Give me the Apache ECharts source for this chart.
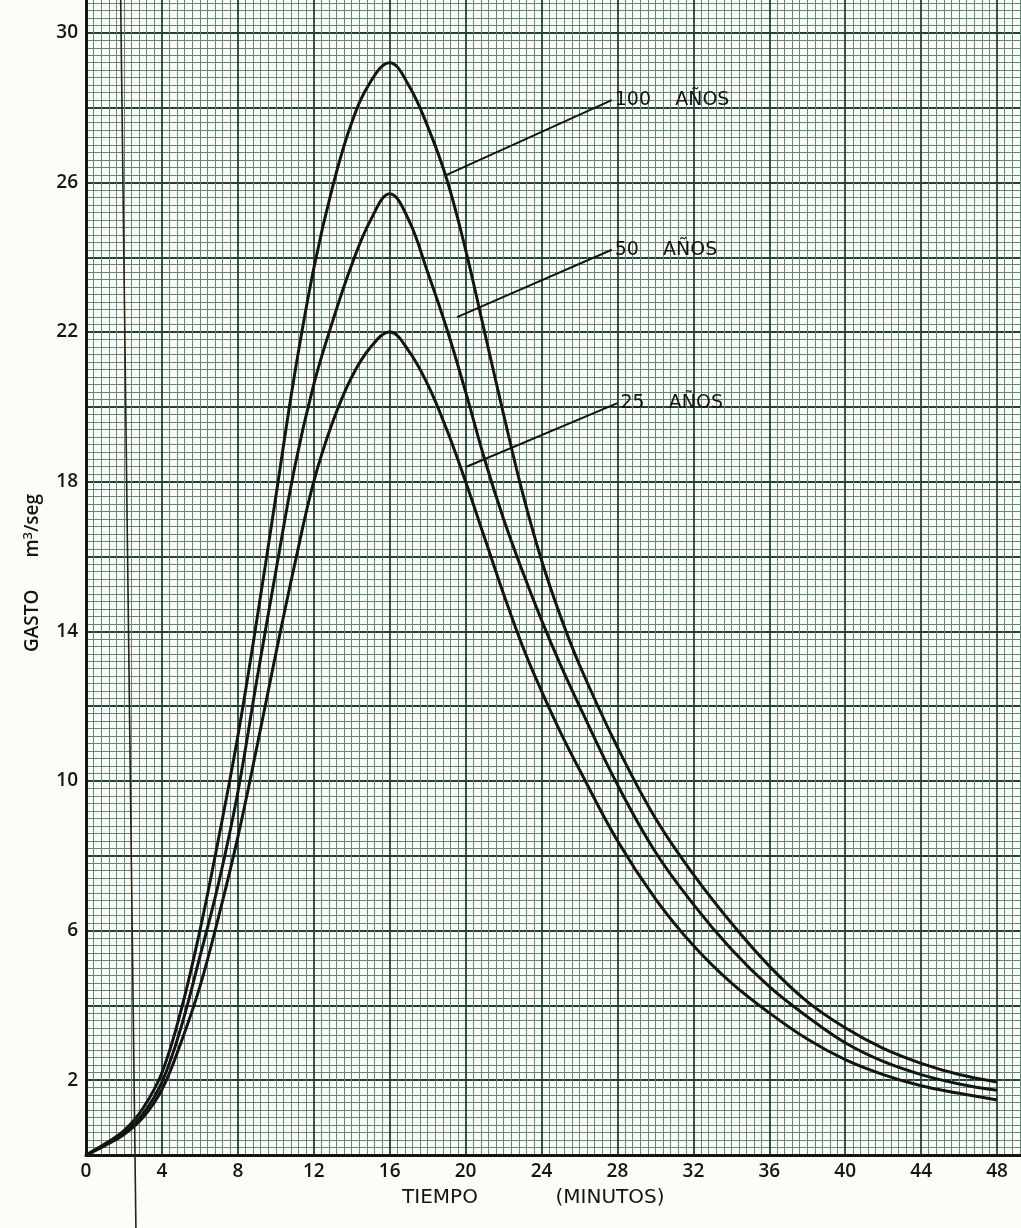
<!DOCTYPE html>
<html><head><meta charset="utf-8">
<script src="https://cdn.jsdelivr.net/npm/echarts@6/dist/echarts.min.js"></script>
<style>
html,body{margin:0;padding:0;background:#fdfdf8;overflow:hidden;width:1021px;height:1228px}
#c{position:absolute;left:0;top:-42px;width:1076px;height:1270px}
</style>
</head><body><div id="c"></div>
<script>
// Tiempo (minutos)
const timeMin = [0,1,2,3,4,5,6,7,8,9,10,11,12,13,14,15,16,17,18,19,20,21,22,23,24,25,26,28,30,32,34,36,38,40,42,44,46,48];
// Gasto m3/seg
const q100 = [0,0.3,0.65,1.25,2.2,3.85,6.0,8.5,11.2,14.3,17.6,20.9,23.7,25.9,27.6,28.7,29.2,28.6,27.5,26.1,24.2,22.0,19.8,17.7,15.9,14.4,13.1,10.9,9.0,7.5,6.2,5.05,4.1,3.4,2.85,2.45,2.15,1.95];
const q50  = [0,0.28,0.6,1.1,1.95,3.4,5.3,7.3,9.7,12.7,15.6,18.4,20.6,22.3,23.8,25.0,25.7,25.0,23.6,22.1,20.4,18.6,17.0,15.6,14.3,13.1,12.0,9.9,8.1,6.7,5.5,4.5,3.7,3.0,2.5,2.15,1.9,1.73];
const q25  = [0,0.25,0.55,1.0,1.75,3.0,4.5,6.4,8.5,10.9,13.4,15.8,18.0,19.6,20.8,21.6,22.0,21.5,20.6,19.4,18.0,16.5,15.0,13.6,12.4,11.3,10.3,8.4,6.85,5.6,4.6,3.8,3.1,2.55,2.15,1.85,1.65,1.47];
const seriesNames = ['100    AÑOS', '50    AÑOS', '25    AÑOS'];
// leader lines for the curve labels [point on curve, label anchor]
const leader100 = [[19.0, 26.2], [27.7, 28.2]];
const leader50  = [[19.55, 22.4], [27.7, 24.2]];
const leader25  = [[20.05, 18.4], [28.0, 20.1]];
// scan artifact: thin vertical line crossing the sheet
const scanLine = [[1.80, 32], [2.63, -1.96]];
const xMaxLabel = 48, yMaxLabel = 30;
const xTitleParts = ['TIEMPO', '(MINUTOS)'];

const chart = echarts.init(document.getElementById('c'), null, {renderer: 'canvas'});
const FONT = 'Open Sans';
const INK = '#141414';
const pairs = arr => timeMin.map((t, i) => [t, arr[i]]);
const curveStyle = {color: INK, width: 3};
const leaderSeries = (d, name) => ({
  type: 'line', data: d, symbol: 'none', silent: true, z: 5,
  lineStyle: {color: INK, width: 2},
  endLabel: {show: true, formatter: name, color: INK, fontFamily: 'DejaVu Sans', fontSize: 19, distance: 3}
});
const gridAxis = {
  axisLine: {show: true, onZero: false, lineStyle: {color: INK, width: 3}},
  axisTick: {show: false},
  minorTick: {show: false, splitNumber: 10},
  splitLine: {show: true, lineStyle: {color: '#22423a', width: 1.8}},
  minorSplitLine: {show: true, lineStyle: {color: '#5f877a', width: 1}}
};
chart.setOption({
  animation: false,
  backgroundColor: '#fdfdf8',
  grid: {left: 86, right: 0, top: 0, bottom: 73},
  xAxis: Object.assign({
    type: 'value', min: 0, max: 52, interval: 4,
    axisLabel: {
      margin: 7, color: INK, fontFamily: FONT, fontSize: 19, fontWeight: 600,
      formatter: v => v <= xMaxLabel ? String(v) : ''
    }
  }, gridAxis),
  yAxis: Object.assign({
    type: 'value', min: 0, max: 32, interval: 2,
    axisLabel: {
      margin: 8, color: INK, fontFamily: FONT, fontSize: 19, fontWeight: 600,
      formatter: v => (v <= yMaxLabel && v % 4 === 2) ? String(v) : ''
    }
  }, gridAxis),
  graphic: [
    {type: 'text', x: 33, y: 615, rotation: Math.PI / 2,
     style: {text: 'GASTO{gap|}m{sup|3}/seg', align: 'center', verticalAlign: 'middle',
       font: '600 19px "Open Sans"', fill: INK,
       rich: {
         gap: {width: 32},
         sup: {fontSize: 13, fontFamily: FONT, fontWeight: 600, verticalAlign: 'top', padding: [0, 0, 10, 0], fill: INK}
       }}},
    {type: 'text', x: 440, y: 1240,
     style: {text: xTitleParts[0], align: 'center', verticalAlign: 'middle', font: '500 20px "DejaVu Sans"', fill: INK}},
    {type: 'text', x: 610, y: 1240,
     style: {text: xTitleParts[1], align: 'center', verticalAlign: 'middle', font: '500 20px "DejaVu Sans"', fill: INK}}
  ],
  series: [
    {type: 'line', name: seriesNames[0], data: pairs(q100), smooth: 0.4, symbol: 'none', lineStyle: curveStyle, z: 6},
    {type: 'line', name: seriesNames[1], data: pairs(q50), smooth: 0.4, symbol: 'none', lineStyle: curveStyle, z: 6},
    {type: 'line', name: seriesNames[2], data: pairs(q25), smooth: 0.4, symbol: 'none', lineStyle: curveStyle, z: 6},
    leaderSeries(leader100, seriesNames[0]),
    leaderSeries(leader50, seriesNames[1]),
    leaderSeries(leader25, seriesNames[2]),
    {type: 'line', data: scanLine, symbol: 'none', clip: false, silent: true, z: 7,
     lineStyle: {color: '#2b2314', width: 1.6}}
  ]
});
</script></body></html>
